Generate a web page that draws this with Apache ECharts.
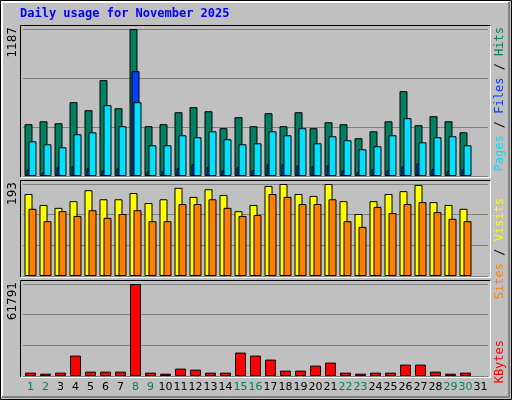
<!DOCTYPE html>
<html>
<head>
<meta charset="utf-8">
<script src="https://cdn.jsdelivr.net/npm/echarts@6/dist/echarts.min.js"></script>
<style>
  html, body { margin: 0; padding: 0; background: #c0c0c0; }
  #chart { width: 512px; height: 400px; }
</style>
</head>
<body>
<div id="chart"></div>
<script>
const days = [];
for (let d = 1; d <= 31; d++) days.push(String(d));
const weekends = ["1", "2", "8", "9", "15", "16", "22", "23", "29", "30"];

const hits = [418, 442, 426, 596, 531, 774, 547, 1187, 402, 418, 515, 556, 523, 386, 475,
  402, 507, 402, 515, 386, 434, 418, 305, 361, 442, 685, 410, 483, 442, 353, null];
const files = [54, 30, 70, 78, 62, 46, 62, 847, 38, 38, 62, 94, 70, 46, 70,
  46, 94, 94, 86, 78, 86, 46, 30, 54, 46, 78, 102, 54, 38, 54, null];
const pages = [280, 256, 232, 337, 353, 572, 402, 596, 248, 248, 329, 313, 361, 297, 256,
  264, 361, 329, 386, 264, 321, 289, 216, 240, 329, 467, 272, 313, 321, 248, null];
const visits = [172, 149, 143, 157, 180, 161, 161, 174, 153, 161, 185, 166, 182, 170, 136,
  149, 189, 193, 172, 168, 193, 157, 130, 157, 172, 178, 191, 155, 149, 141, null];
const sites = [141, 115, 136, 126, 138, 122, 130, 138, 115, 115, 151, 151, 161, 143, 126,
  128, 172, 166, 151, 151, 161, 115, 103, 145, 132, 151, 155, 134, 120, 115, null];
const kbytes = [2247, 1573, 2247, 13707, 2921, 2921, 2921, 61791, 2247, 1573, 4943, 4269, 2247, 2247, 15729,
  13707, 11010, 3595, 3595, 6966, 8988, 2247, 1573, 2247, 2247, 7640, 7640, 2921, 1573, 2247, null];
const maxLabels = [1187, 193, 61791];

const panels = [
  { top: 29, height: 147, frameTop: 25 },
  { top: 184, height: 92, frameTop: 180 },
  { top: 284, height: 92, frameTop: 280 }
];

const myChart = echarts.init(document.getElementById("chart"));

const grids = panels.map((p) => ({ left: 23, width: 465, top: p.top, height: p.height }));

const xAxes = panels.map((p, i) => ({
  type: "category",
  gridIndex: i,
  data: days,
  axisLine: { show: false },
  axisTick: { show: false },
  axisLabel: i === 2 ? {
    show: true,
    margin: 6,
    fontFamily: "DejaVu Sans",
    fontSize: 11,
    color: (v) => (weekends.includes(v) ? "#008060" : "#000"),
    interval: 0
  } : { show: false }
}));

const yAxes = panels.map((p, i) => ({
  type: "value",
  gridIndex: i,
  min: 0,
  max: maxLabels[i],
  interval: maxLabels[i] / 3,
  axisLine: { show: false },
  axisTick: { show: false },
  axisLabel: { show: false },
  splitLine: { show: true, lineStyle: { color: "#808080", width: 1 } }
}));

const barBorder = { borderColor: "#000", borderWidth: 1 };

const series = [
  { name: "Hits", type: "bar", xAxisIndex: 0, yAxisIndex: 0, data: hits, barWidth: 8, barGap: "-75%",
    itemStyle: { color: "#008060", ...barBorder } },
  { name: "Files", type: "bar", xAxisIndex: 0, yAxisIndex: 0, data: files, barWidth: 8, barGap: "-75%",
    itemStyle: { color: "#0040ff", ...barBorder } },
  { name: "Pages", type: "bar", xAxisIndex: 0, yAxisIndex: 0, data: pages, barWidth: 8, barGap: "-75%",
    itemStyle: { color: "#00e0ff", ...barBorder } },
  { name: "Visits", type: "bar", xAxisIndex: 1, yAxisIndex: 1, data: visits, barWidth: 8, barGap: "-50%",
    itemStyle: { color: "#ffff00", ...barBorder } },
  { name: "Sites", type: "bar", xAxisIndex: 1, yAxisIndex: 1, data: sites, barWidth: 8, barGap: "-50%",
    itemStyle: { color: "#ff8000", ...barBorder } },
  { name: "KBytes", type: "bar", xAxisIndex: 2, yAxisIndex: 2, data: kbytes, barWidth: 11,
    itemStyle: { color: "#ff0000", ...barBorder } }
];

const mono = "DejaVu Sans Mono";
const graphic = [
  // outer bevel
  { type: "rect", shape: { x: 0.5, y: 0.5, width: 511, height: 399 }, style: { fill: null, stroke: "#000" }, z: 0 },
  { type: "polyline", shape: { points: [[2, 397], [2, 2], [509, 2]] }, style: { stroke: "#fff", lineWidth: 2, fill: null } },
  { type: "polyline", shape: { points: [[509, 2], [509, 397], [2, 397]] }, style: { stroke: "#808080", lineWidth: 2, fill: null } },
  { type: "text", left: 20, top: 8, style: { text: "Daily usage for November 2025", font: "bold 12px " + mono, fill: "#0000ff" } }
];
panels.forEach((p, i) => {
  const bottom = p.top + p.height + 1;
  graphic.push({ type: "polyline", shape: { points: [[20.5, bottom], [20.5, p.frameTop + 0.5], [490.5, p.frameTop + 0.5]] },
    style: { stroke: "#000", fill: null, lineWidth: 1 }, z: 10 });
  graphic.push({ type: "polyline", shape: { points: [[490.5, p.frameTop + 0.5], [490.5, bottom + 0.5], [20.5, bottom + 0.5]] },
    style: { stroke: "#fff", fill: null, lineWidth: 1 }, z: 10 });
  graphic.push({ type: "text", x: 13, y: p.frameTop + 2, rotation: Math.PI / 2,
    style: { text: String(maxLabels[i]), font: "12px DejaVu Sans", fill: "#000", align: "right", verticalAlign: "middle" } });
});
// right side legends (rotated, reading bottom to top)
graphic.push({ type: "text", x: 500, y: 27, rotation: Math.PI / 2,
  style: { align: "right", verticalAlign: "middle", font: "12px " + mono,
    rich: { p: { fill: "#00e0ff", font: "12px " + mono }, f: { fill: "#0040ff", font: "12px " + mono },
      h: { fill: "#008060", font: "12px " + mono }, s: { fill: "#000", font: "12px " + mono } },
    text: "{p|Pages}{s| / }{f|Files}{s| / }{h|Hits}" } });
graphic.push({ type: "text", x: 500, y: 198, rotation: Math.PI / 2,
  style: { align: "right", verticalAlign: "middle", font: "12px " + mono,
    rich: { a: { fill: "#ff8000", font: "12px " + mono }, b: { fill: "#ffff00", font: "12px " + mono },
      s: { fill: "#000", font: "12px " + mono } },
    text: "{a|Sites}{s| / }{b|Visits}" } });
graphic.push({ type: "text", x: 500, y: 340, rotation: Math.PI / 2,
  style: { align: "right", verticalAlign: "middle", font: "12px " + mono, fill: "#ff0000", text: "KBytes" } });

myChart.setOption({
  backgroundColor: "#c0c0c0",
  animation: false,
  grid: grids,
  xAxis: xAxes,
  yAxis: yAxes,
  series: series,
  graphic: graphic
});
</script>
</body>
</html>
